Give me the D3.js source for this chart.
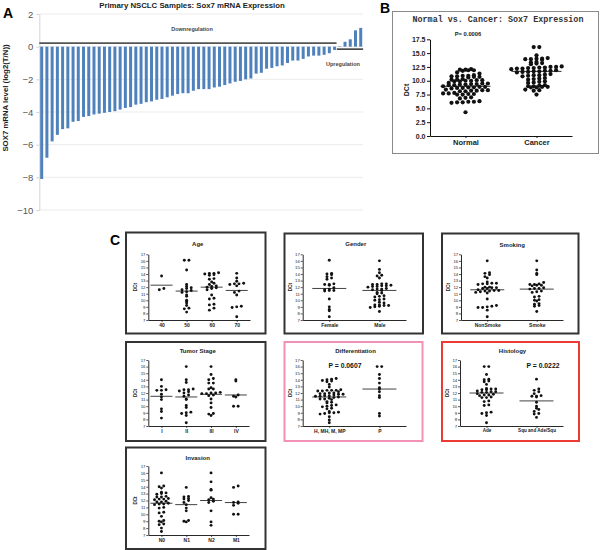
<!DOCTYPE html>
<html><head><meta charset="utf-8">
<script src="https://cdn.jsdelivr.net/npm/d3@7"></script>
<style>body{margin:0;background:#fff}svg{display:block}</style>
</head><body>
<svg id="c" width="600" height="550"></svg>
<script>
// ---------- DATA ----------
// Panel A: log2(T/N) per sample
const sox7Bars = [-8.1,-6.8,-5.8,-5.4,-5.05,-5.0,-4.6,-4.55,-4.3,-4.25,
  -4.15,-4.1,-4.05,-4.0,-3.95,-3.85,-3.75,-3.7,-3.55,-3.5,
  -3.4,-3.35,-3.25,-3.2,-3.1,-3.0,-2.9,-2.85,-2.85,-2.7,
  -2.6,-2.6,-2.6,-2.5,-2.45,-2.35,-2.25,-2.15,-2.1,-2.0,
  -1.95,-1.65,-1.6,-1.35,-1.3,-1.2,-1.15,-1.0,-0.85,-0.85,
  -0.75,-0.6,-0.55,-0.55,-0.5,-0.4,-0.2,
  0.03,0.3,0.45,1.0,1.15];
const barTicks = [2,0,-2,-4,-6,-8,-10];

// Panel B
const groupB = ["Normal","Cancer"];
const normalDCt = [12.1,12.0,12.0,11.9,11.9,11.8,11.5,11.3,
  11.0,10.9,10.9,10.8,10.8,10.7,10.7,10.6,
  10.3,10.2,10.2,10.1,10.1,10.0,10.0,9.9,9.9,
  9.6,9.5,9.5,9.4,9.4,9.3,9.3,9.2,9.2,
  9.0,8.9,8.9,8.8,8.8,8.7,8.7,8.6,
  8.4,8.3,8.3,8.2,8.2,8.1,8.1,
  7.8,7.7,7.7,7.6,7.6,7.5,7.5,
  7.0,6.9,6.8,
  6.3,6.2,6.2,6.1,6.1,6.0,
  4.3];
const cancerDCt = [16.1,16.1,14.6,
  14.1,14.0,14.0,13.9,13.9,13.8,
  13.4,13.3,13.2,13.1,13.0,
  12.6,12.5,12.5,12.4,12.4,12.3,12.3,12.2,12.2,12.1,
  11.9,11.8,11.8,11.7,11.7,11.6,11.6,11.5,
  11.2,11.1,11.0,11.0,10.9,10.8,
  10.5,10.4,10.3,10.2,
  9.9,9.8,9.7,9.6,
  9.2,9.1,9.0,9.0,8.9,8.9,8.8,8.8,
  8.4,8.3,8.2,
  7.5];
const centreB = [9.0, 11.7];
const ticksB = [0,2.5,5,7.5,10,12.5,15,17.5];

// Panel C
const ticksC = [7,8,9,10,11,12,13,14,15,16,17];
const ageCats = ["40","50","60","70"];
const age40 = [13.7,11.8,11.6];
const age50 = [16.1,16.1,14.6,12.4,12.1,11.9,11.8,11.6,11.5,11.3,11.2,10.8,10.6,10.0,9.8,9.6,9.2,8.8,8.7,8.2];
const age60 = [14.2,14.1,14.1,14.0,13.9,13.8,13.3,13.2,12.8,12.6,12.4,12.2,12.1,12.0,11.9,11.8,11.6,10.8,10.3,10.2,9.4,9.3,8.8,8.5];
const age70 = [14.1,13.4,12.9,12.6,12.5,12.5,12.4,12.2,11.4,11.2,10.8,9.1,9.0,8.9,7.5];
const ageCentres = [12.3,11.4,12.0,11.5];

const genderCats = ["Female","Male"];
const female = [16.1,14.1,14.0,13.9,13.6,13.4,13.2,12.5,12.4,12.4,12.3,11.9,11.7,11.6,11.5,11.5,11.4,10.2,9.0,8.6,8.4,7.5];
const male = [16.0,14.7,14.2,13.8,13.7,13.4,12.5,12.5,12.4,12.4,12.3,12.2,12.2,12.1,12.1,12.0,11.8,11.7,11.7,11.6,11.5,11.2,11.1,11.0,10.7,10.6,10.5,10.2,10.1,10.0,9.7,9.6,9.3,9.3,9.2,9.2,9.1,9.0,8.9,8.3];
const genderCentres = [11.8,11.5];

const smokingCats = ["NonSmoke","Smoke"];
const nonSmoke = [16.0,14.2,14.1,13.9,13.6,13.4,12.8,12.6,12.6,12.5,12.5,12.4,12.0,12.0,11.9,11.9,11.8,11.8,11.6,11.5,11.5,11.4,11.4,11.3,11.2,11.1,10.2,9.2,9.1,9.0,8.9,8.9,8.5,7.5];
const smoke = [16.0,14.6,14.1,13.9,12.7,12.5,12.4,12.4,12.3,12.3,12.2,11.9,11.8,11.8,11.7,11.4,11.3,11.2,10.6,10.5,10.1,10.0,9.9,9.5,9.4,9.2,9.1,8.3];
const smokingCentres = [11.6,11.7];

const stageCats = ["I","II","III","IV"];
const stage1 = [14.0,13.0,12.5,12.4,12.4,11.8,11.4,11.0,9.6,9.2,8.2];
const stage2 = [16.0,14.0,13.6,12.6,12.5,12.5,12.3,12.2,12.0,11.7,11.5,11.1,11.0,10.1,9.8,9.1,9.0,8.9,8.6,7.5];
const stage3 = [16.0,14.8,14.2,14.0,13.5,13.5,12.8,12.6,12.6,12.1,12.0,12.0,11.9,11.9,11.7,11.6,11.1,10.5,9.8,8.9,8.8,8.6];
const stage4 = [14.0,13.8,11.7,11.5,11.4,10.0,10.0];
const stageCentres = [11.5,11.4,11.8,11.7];

const diffCats = ["H, MH, M, MP","P"];
const diffHM = [14.2,14.1,14.0,13.9,13.8,13.7,13.3,12.9,12.5,12.4,12.4,12.4,12.3,12.3,12.2,12.0,12.0,11.9,11.9,11.8,11.8,11.7,11.6,11.6,11.5,11.5,11.4,11.3,11.2,11.1,11.1,11.0,10.7,10.6,10.5,10.2,10.1,10.0,9.9,9.7,9.6,9.2,9.1,9.0,9.0,8.9,8.8,8.4,7.9,7.5];
const diffP = [16.0,16.0,14.8,14.2,13.5,12.8,12.6,12.2,11.6,11.3,8.9,8.5];
const diffCentres = [11.4,12.6];

const histCats = ["Ade","Squ and Ade/Squ"];
const histAde = [16.0,16.0,14.8,14.1,14.0,13.8,13.7,13.3,12.7,12.6,12.6,12.5,12.5,12.3,12.2,12.2,12.1,12.1,11.9,11.8,11.7,11.7,11.6,11.4,11.3,11.3,10.8,10.7,10.2,10.1,9.1,9.0,8.9,8.6,7.5];
const histSqu = [14.1,12.6,12.4,12.2,11.9,11.6,11.5,11.5,11.4,10.6,10.0,9.7,9.5,9.2,8.9,8.8,8.3];
const histCentres = [12.0,10.8];

const invCats = ["N0","N1","N2","M1"];
const invN0 = [16.0,14.1,14.0,13.8,13.2,13.1,13.0,12.9,12.6,12.5,12.5,12.3,12.2,12.2,12.1,11.9,11.8,11.8,11.6,11.5,11.5,11.4,11.0,10.9,10.3,10.2,9.7,9.1,9.0,8.9,8.6,8.5,8.0,7.5];
const invN1 = [13.9,12.6,12.5,12.3,12.2,12.0,11.7,11.4,10.9,10.5,9.1,9.0,8.9];
const invN2 = [16.0,14.7,13.6,13.5,12.4,12.2,12.1,11.9,11.7,10.5,8.9,8.4];
const invM1 = [14.1,13.9,11.8,11.7,11.6,11.3,10.0,10.0];
const invCentres = [11.6,11.4,12.0,11.7];

// ---------- DRAWING ----------
const FONT = '"Liberation Sans", Arial, Helvetica, sans-serif';
const svg = d3.select("#c");

// column-scatter layout: points that fall in the same pixel row sit side by side
function columnScatter(vals, y, rowH, step) {
  const pts = vals.map(v => ({v, y: y(v)}));
  const rows = d3.group(pts, p => Math.round(p.y / rowH));
  rows.forEach(arr => {
    arr.sort((a, b) => a.v - b.v);
    const n = arr.length;
    arr.forEach((p, i) => { p.dx = (i - (n - 1) / 2) * step; });
  });
  return pts;
}

// ===== Panel A =====
const gA = svg.append("g");
const xA = d3.scaleBand().domain(d3.range(sox7Bars.length)).range([39.3, 363.1]).paddingInner(0.43).paddingOuter(0.17);
const yA = d3.scaleLinear().domain([-10, 2]).range([210, 14]);
gA.selectAll("line.grid").data(barTicks).join("line")
  .attr("x1", xA.range()[0]).attr("x2", xA.range()[1])
  .attr("y1", d => yA(d)).attr("y2", d => yA(d))
  .attr("stroke", "#e6e6e6").attr("stroke-width", 0.8);
const axA = gA.append("g").attr("transform", `translate(${xA.range()[0]},0)`)
  .call(d3.axisLeft(yA).tickValues(barTicks).tickSize(3).tickPadding(3).tickSizeOuter(0));
axA.select(".domain").attr("stroke", "#d4d4d4");
axA.selectAll(".tick line").attr("stroke", "#d4d4d4");
axA.selectAll("text").attr("fill", "#555").style("font-size", "9.5px").style("font-family", FONT);
gA.selectAll("rect.bar").data(sox7Bars).join("rect")
  .attr("x", (d, i) => xA(i)).attr("width", xA.bandwidth())
  .attr("y", d => yA(Math.max(0, d)))
  .attr("height", d => Math.abs(yA(d) - yA(0)))
  .attr("fill", "#4f81bd");
const nDown = sox7Bars.filter(v => v < 0).length;
gA.append("line").attr("x1", xA.range()[0]).attr("x2", xA(nDown - 1) + xA.bandwidth() + 0.5)
  .attr("y1", yA(0.22)).attr("y2", yA(0.22)).attr("stroke", "#555").attr("stroke-width", 1.8);
gA.append("line").attr("x1", xA(nDown) - 1.5).attr("x2", xA.range()[1])
  .attr("y1", yA(-0.15)).attr("y2", yA(-0.15)).attr("stroke", "#111").attr("stroke-width", 1.3);
gA.append("text").attr("x", 192).attr("y", 31).attr("text-anchor", "middle")
  .style("font-family", FONT).style("font-size", "5.5px").style("font-weight", "bold").attr("fill", "#444").text("Downregulation");
gA.append("text").attr("x", 343).attr("y", 66).attr("text-anchor", "middle")
  .style("font-family", FONT).style("font-size", "5.5px").style("font-weight", "bold").attr("fill", "#444").text("Upregulation");
gA.append("text").attr("x", 192).attr("y", 7.5).attr("text-anchor", "middle")
  .style("font-family", FONT).style("font-size", "7.8px").style("font-weight", "bold").attr("fill", "#222")
  .text("Primary NSCLC Samples: Sox7 mRNA Expression");
gA.append("text").attr("transform", "translate(8,98) rotate(-90)").attr("text-anchor", "middle")
  .style("font-family", FONT).style("font-size", "7.8px").style("font-weight", "bold").attr("fill", "#222")
  .text("SOX7 mRNA level (log2(T/N))");
svg.append("text").attr("x", 3).attr("y", 18).style("font-family", FONT).style("font-size", "14px")
  .style("font-weight", "bold").text("A");

// ===== Panel B =====
const gB = svg.append("g");
gB.append("rect").attr("x", 392.5).attr("y", 11.5).attr("width", 206).attr("height", 142)
  .attr("fill", "#fff").attr("stroke", "#8a8a8a").attr("stroke-width", 1);
svg.append("text").attr("x", 380).attr("y", 13).style("font-family", FONT).style("font-size", "14px")
  .style("font-weight", "bold").text("B");
const yB = d3.scaleLinear().domain([0, 17.5]).range([136, 39.3]);
const xB = d3.scalePoint().domain(groupB).range([430, 572]).padding(0.5);
const axBy = gB.append("g").attr("transform", "translate(430,0)")
  .call(d3.axisLeft(yB).tickValues(ticksB).tickFormat(d3.format(".1f")).tickSize(3).tickPadding(1.5).tickSizeOuter(0));
const axBx = gB.append("g").attr("transform", "translate(0,136)")
  .call(d3.axisBottom(xB).tickSize(2).tickPadding(2).tickSizeOuter(0));
[axBy, axBx].forEach(a => {
  a.select(".domain").attr("stroke", "#111");
  a.selectAll(".tick line").attr("stroke", "#111");
  a.selectAll("text").attr("fill", "#222").style("font-family", FONT).style("font-weight", "bold");
});
axBy.selectAll("text").style("font-size", "7px");
axBx.selectAll("text").style("font-size", "7.5px");
gB.append("text").attr("transform", "translate(409,90) rotate(-90)").attr("text-anchor", "middle")
  .style("font-family", FONT).style("font-size", "7px").style("font-weight", "bold").attr("fill", "#222").text("DCt");
gB.append("text").attr("x", 498).attr("y", 22).attr("text-anchor", "middle")
  .style("font-family", '"Liberation Mono", "Courier New", monospace').style("font-size", "8.4px")
  .style("font-weight", "bold").attr("fill", "#333").text("Normal vs. Cancer: Sox7 Expression");
gB.append("text").attr("x", 468).attr("y", 35.5).attr("text-anchor", "middle")
  .style("font-family", FONT).style("font-size", "5.8px").style("font-weight", "bold").attr("fill", "#222").text("P= 0.0006");
[normalDCt, cancerDCt].forEach((vals, gi) => {
  const cx = xB(groupB[gi]);
  const pts = columnScatter(vals, yB, 3.4, 5.6);
  gB.append("g").selectAll("circle").data(pts).join("circle")
    .attr("cx", d => cx + d.dx).attr("cy", d => d.y).attr("r", 2.1).attr("fill", "#111");
  gB.append("line").attr("x1", cx - 25).attr("x2", cx + 25)
    .attr("y1", yB(centreB[gi])).attr("y2", yB(centreB[gi])).attr("stroke", "#111").attr("stroke-width", 0.9);
});

// ===== Panel C =====
svg.append("text").attr("x", 110).attr("y", 245).style("font-family", FONT).style("font-size", "14px")
  .style("font-weight", "bold").text("C");
const cPanels = [
  {title: "Age", cats: ageCats, groups: [age40, age50, age60, age70], centres: ageCentres,
   frame: [126, 232.5, 265.5, 333.5], axis: [148.3, 250, 254.3, 320], titleY: 246, colour: "#333"},
  {title: "Gender", cats: genderCats, groups: [female, male], centres: genderCentres,
   frame: [284.5, 233.5, 423, 333.5], axis: [302.7, 406, 254.3, 320], titleY: 245.5, colour: "#333"},
  {title: "Smoking", cats: smokingCats, groups: [nonSmoke, smoke], centres: smokingCentres,
   frame: [442, 233.5, 578.5, 333.5], axis: [461, 563, 254.3, 320], titleY: 246.5, colour: "#333"},
  {title: "Tumor Stage", cats: stageCats, groups: [stage1, stage2, stage3, stage4], centres: stageCentres,
   frame: [126, 342, 265.5, 441], axis: [148.3, 249, 360, 426], titleY: 353, colour: "#333"},
  {title: "Differentiation", cats: diffCats, groups: [diffHM, diffP], centres: diffCentres,
   frame: [284.5, 342, 422.5, 441], axis: [302.7, 406, 360, 426], titleY: 353, colour: "#f291b5",
   note: "P = 0.0607", noteX: 345, noteY: 367.5},
  {title: "Histology", cats: histCats, groups: [histAde, histSqu], centres: histCentres,
   frame: [442, 342, 579, 441], axis: [460, 563, 360, 426], titleY: 353, colour: "#ee3a34",
   note: "P = 0.0222", noteX: 543, noteY: 367.5},
  {title: "Invasion", cats: invCats, groups: [invN0, invN1, invN2, invM1], centres: invCentres,
   frame: [126, 447.5, 265.5, 549], axis: [148.3, 249, 466, 535], titleY: 459.5, colour: "#333"}
];
cPanels.forEach(p => {
  const g = svg.append("g");
  const [fx0, fy0, fx1, fy1] = p.frame;
  g.append("rect").attr("x", fx0).attr("y", fy0).attr("width", fx1 - fx0).attr("height", fy1 - fy0)
    .attr("fill", "#fff").attr("stroke", p.colour).attr("stroke-width", 2);
  const [ax0, ax1, yTop, yBot] = p.axis;
  const y = d3.scaleLinear().domain([7, 17]).range([yBot, yTop]);
  const x = d3.scalePoint().domain(p.cats).range([ax0, ax1]).padding(0.53);
  const ay = g.append("g").attr("transform", `translate(${ax0},0)`)
    .call(d3.axisLeft(y).tickValues(ticksC).tickSize(2).tickPadding(0.8).tickSizeOuter(0));
  const axx = g.append("g").attr("transform", `translate(0,${yBot})`)
    .call(d3.axisBottom(x).tickSize(2).tickPadding(1.2).tickSizeOuter(0));
  [ay, axx].forEach(a => {
    a.select(".domain").attr("stroke", "#111").attr("stroke-width", 0.9);
    a.selectAll(".tick line").attr("stroke", "#111").attr("stroke-width", 0.7);
    a.selectAll("text").attr("fill", "#222").style("font-family", FONT);
  });
  ay.selectAll("text").style("font-size", "4.3px");
  axx.selectAll("text").style("font-size", p.title === "Histology" ? "4.6px" : "5px").style("font-weight", "bold");
  g.append("text").attr("transform", `translate(${ax0 - 11},${(yTop + yBot) / 2}) rotate(-90)`).attr("text-anchor", "middle")
    .style("font-family", FONT).style("font-size", "4.6px").style("font-weight", "bold").attr("fill", "#222").text("DCt");
  g.append("text").attr("x", (fx0 + fx1) / 2 + 2).attr("y", p.titleY).attr("text-anchor", "middle")
    .style("font-family", FONT).style("font-size", "6px").style("font-weight", "bold").attr("fill", "#222").text(p.title);
  if (p.note) {
    g.append("text").attr("x", p.noteX).attr("y", p.noteY).attr("text-anchor", "middle")
      .style("font-family", FONT).style("font-size", "6.8px").style("font-weight", "bold").attr("fill", "#111").text(p.note);
  }
  const halfLine = p.cats.length > 2 ? 11 : 17;
  p.groups.forEach((vals, gi) => {
    const cx = x(p.cats[gi]);
    const pts = columnScatter(vals, y, 2.6, 4.6);
    g.append("g").selectAll("circle").data(pts).join("circle")
      .attr("cx", d => cx + d.dx).attr("cy", d => d.y).attr("r", 1.45).attr("fill", "#111");
    g.append("line").attr("x1", cx - halfLine).attr("x2", cx + halfLine)
      .attr("y1", y(p.centres[gi])).attr("y2", y(p.centres[gi])).attr("stroke", "#111").attr("stroke-width", 0.8);
  });
});
</script>
</body></html>
